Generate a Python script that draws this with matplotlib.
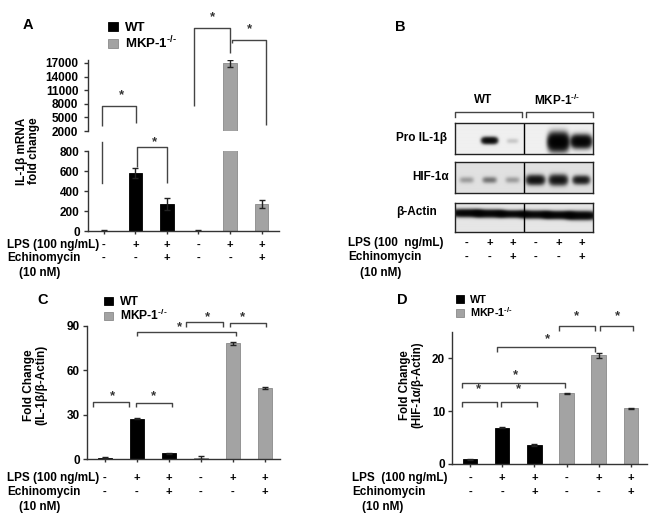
import numpy as np
import matplotlib
matplotlib.use('Agg')
import matplotlib.pyplot as plt
from matplotlib.transforms import blended_transform_factory

plt.rcParams.update({
    'font.family': ['Liberation Sans', 'DejaVu Sans'],
    'font.weight': 'bold',
    'font.size': 8.5,
    'mathtext.fontset': 'custom',
    'mathtext.rm': 'Liberation Sans:bold',
    'mathtext.it': 'Liberation Sans:bold',
    'mathtext.bf': 'Liberation Sans:bold',
    'mathtext.default': 'rm',
    'axes.linewidth': 1.0,
    'axes.edgecolor': '#333333',
    'xtick.color': '#333333', 'ytick.color': '#333333',
    'xtick.labelcolor': 'black', 'ytick.labelcolor': 'black',
})

# ---------------- data ----------------
lps = ['-', '+', '+', '-', '+', '+']
echinomycin = ['-', '-', '+', '-', '-', '+']
groups = ['WT', r'MKP-1$^{\text{-/-}}$']
wt_pos = [0, 1, 2]
mkp_pos = [3, 4, 5]

a_wt = [5, 580, 270]
a_wt_err = [2, 50, 60]
a_mkp = [5, 16900, 270]
a_mkp_err = [2, 750, 40]
a_upper_ticks = [2000, 5000, 8000, 11000, 14000, 17000]
a_lower_ticks = [0, 200, 400, 600, 800]

c_wt = [1.0, 27.3, 3.8]
c_wt_err = [0.3, 0.4, 0.3]
c_mkp = [1.0, 78.2, 48.2]
c_mkp_err = [0.8, 1.2, 0.8]
c_ticks = [0, 30, 60, 90]

d_wt = [0.9, 6.9, 3.6]
d_wt_err = [0.1, 0.1, 0.1]
d_mkp = [13.4, 20.6, 10.6]
d_mkp_err = [0.1, 0.5, 0.1]
d_ticks = [0, 10, 20]

blot_rows = ['Pro IL-1β', 'HIF-1α', 'β-Actin']
pro_il1b_levels = [0.0, 1.0, 0.06, 0.0, 1.5, 1.25]
hif1a_levels = [0.12, 0.22, 0.12, 0.85, 0.8, 0.7]
actin_levels = [1.2, 1.2, 1.1, 1.1, 1.2, 1.2]

WT_COLOR = '#000000'
MKP_COLOR = '#a3a3a3'
LINE = '#444444'

W, H = 654, 524
fig = plt.figure(figsize=(W / 100, H / 100), dpi=100)


def fx(x):
    return x / W


def fy(y):
    return 1 - y / H


def rect(l, t, r, b):
    return [fx(l), fy(b), (r - l) / W, (b - t) / H]


def style(ax, bottom=True, pad=2.0):
    ax.spines['top'].set_visible(False)
    ax.spines['right'].set_visible(False)
    if not bottom:
        ax.spines['bottom'].set_visible(False)
        ax.tick_params(axis='x', bottom=False, labelbottom=False)
    else:
        ax.set_xticks(range(6))
        ax.tick_params(axis='x', length=2, width=1, labelbottom=False)
    ax.tick_params(axis='y', length=3, width=1, pad=pad, labelsize=8.5)


def bars(ax, wt, wt_err, mkp, mkp_err, width=0.42):
    ax.bar(wt_pos, wt, width=width, color=WT_COLOR, edgecolor=WT_COLOR, lw=0.6,
           yerr=wt_err, capsize=2.5,
           error_kw=dict(elinewidth=1, ecolor='#222222', capthick=1), label=groups[0])
    ax.bar(mkp_pos, mkp, width=width, color=MKP_COLOR, edgecolor='#8a8a8a', lw=0.6,
           yerr=mkp_err, capsize=2.5,
           error_kw=dict(elinewidth=1, ecolor='#222222', capthick=1), label=groups[1])


def bracket(ax, x1, x2, y, y1, y2, sx=None, sy=None, fs=9.5):
    ax.plot([x1, x1, x2, x2], [y1, y, y, y2], color=LINE, lw=1.0, clip_on=False,
            solid_capstyle='butt')
    if sx is not None:
        ax.text(sx, sy, '*', ha='center', va='center', fontsize=fs, clip_on=False,
                color='#333333')


def sign_rows(ax, y_lps, y_ech, fs=8):
    tr = blended_transform_factory(ax.transData, fig.transFigure)
    for i in range(6):
        ax.text(i, fy(y_lps), lps[i], transform=tr, ha='center', va='center', fontsize=fs)
        ax.text(i, fy(y_ech), echinomycin[i], transform=tr, ha='center', va='center', fontsize=fs)


def row_labels(x, y_lps, y_ech, y_nm, x_nm, lps_text='LPS (100 ng/mL)'):
    fig.text(fx(x), fy(y_lps), lps_text, ha='left', va='center', fontsize=8.5)
    fig.text(fx(x), fy(y_ech), 'Echinomycin', ha='left', va='center', fontsize=8.5)
    fig.text(fx(x_nm), fy(y_nm), '(10 nM)', ha='center', va='center', fontsize=8.5)


def legend(ax, x, y, fs):
    ax.legend(loc='upper left', bbox_to_anchor=(fx(x), fy(y)), bbox_transform=fig.transFigure,
              frameon=False, fontsize=fs, handlelength=0.75, handleheight=0.7,
              handletextpad=0.55, labelspacing=0.0, borderpad=0, borderaxespad=0)


# ---------------- Panel A (broken axis) ----------------
axAu = fig.add_axes(rect(88, 60, 279, 131))
axAl = fig.add_axes(rect(88, 151, 279, 231))
for ax in (axAu, axAl):
    bars(ax, a_wt, a_wt_err, a_mkp, a_mkp_err)
    ax.set_xlim(-0.5, 5.55)
axAu.set_ylim(2000, 17660)
axAu.set_yticks(a_upper_ticks)
axAl.set_ylim(0, 800)
axAl.set_yticks(a_lower_ticks)
style(axAu, bottom=False, pad=4)
style(axAl, pad=3)

# brackets A
bracket(axAu, -0.07, 1.03, 7580, 3100, 3765, 0.55, 9900)
axAl.plot([-0.07, -0.07], [893, 480], color=LINE, lw=1.0, clip_on=False)
bracket(axAl, 1.06, 2.0, 843, 640, 480, 1.6, 885)
bracket(axAu, 2.86, 3.99, 24656, 7515, 19207, 3.45, 27200)
bracket(axAu, 4.06, 5.13, 22075, 21413, 3324, 4.6, 24500)

legend(axAu, 108, 22, 9.5)
fig.text(fx(28), fy(151), 'IL-1β mRNA\nfold change', rotation=90, ha='center', va='center',
         multialignment='center', linespacing=1.0, fontsize=8.5)
fig.text(fx(28), fy(25), 'A', ha='center', va='center', fontsize=10.5)
sign_rows(axAl, 245, 258)
row_labels(7, 245, 258, 273, 40)

# ---------------- Panel C ----------------
axC = fig.add_axes(rect(87, 326, 280, 459))
bars(axC, c_wt, c_wt_err, c_mkp, c_mkp_err)
axC.set_xlim(-0.56, 5.47)
axC.set_ylim(0, 90)
axC.set_yticks(c_ticks)
style(axC)
bracket(axC, -0.37, 0.75, 38.5, 35.5, 35.5, 0.25, 42.5)
bracket(axC, 0.97, 2.1, 38.2, 35.5, 35.5, 1.53, 42.5)
bracket(axC, 1.0, 4.1, 86.0, 83.0, 83.0, 2.34, 89.0)
bracket(axC, 2.53, 3.69, 92.8, 89.4, 89.4, 3.19, 96.0)
bracket(axC, 3.9, 5.03, 92.3, 89.4, 89.4, 4.31, 96.0)
legend(axC, 104, 296, 8.7)
fig.text(fx(35), fy(385), 'Fold Change\n(IL-1β/β-Actin)', rotation=90, ha='center', va='center',
         multialignment='center', linespacing=1.0, fontsize=8.5)
fig.text(fx(43), fy(300), 'C', ha='center', va='center', fontsize=10.5)
sign_rows(axC, 478, 492)
row_labels(7, 478, 492, 507, 40)

# ---------------- Panel D ----------------
axD = fig.add_axes(rect(452, 332, 647, 464))
bars(axD, d_wt, d_wt_err, d_mkp, d_mkp_err, width=0.45)
axD.set_xlim(-0.56, 5.5)
axD.set_ylim(0, 25)
axD.set_yticks(d_ticks)
style(axD)
bracket(axD, -0.25, 0.84, 11.7, 10.8, 10.8, 0.25, 14.2)
bracket(axD, 0.96, 2.08, 11.7, 10.8, 10.8, 1.52, 14.2)
bracket(axD, -0.25, 2.95, 15.3, 14.4, 14.4, 1.4, 16.8)
bracket(axD, 0.84, 3.88, 22.2, 21.2, 21.2, 2.42, 23.7)
bracket(axD, 2.76, 3.88, 26.1, 25.2, 25.2, 3.32, 28.0)
bracket(axD, 4.04, 5.06, 26.1, 25.2, 25.2, 4.57, 28.0)
legend(axD, 456, 295, 7.8)
fig.text(fx(411), fy(385), 'Fold Change\n(HIF-1α/β-Actin)', rotation=90, ha='center', va='center',
         multialignment='center', linespacing=1.0, fontsize=8.3)
fig.text(fx(402), fy(300), 'D', ha='center', va='center', fontsize=10.5)
sign_rows(axD, 478, 492)
row_labels(352, 478, 492, 507, 383, lps_text='LPS  (100 ng/mL)')


# ---------------- Panel B (western blot) ----------------
def blot_image(levels, widths, heights, yc, bg, hpx, ncols=276, nrows=64):
    xs = np.linspace(-0.5, 5.5, ncols)
    ys = np.linspace(0, hpx, nrows)
    X, Y = np.meshgrid(xs, ys)
    dens = np.zeros_like(X)
    for i, lv in enumerate(levels):
        if lv <= 0:
            continue
        dens += lv * np.exp(-((X - i) / widths[i]) ** 4 - ((Y - yc[i]) / heights[i]) ** 2)
    return bg * np.exp(-3.0 * dens)


strips = [(123, 154), (162, 193), (203, 232)]
strip_specs = [
    (pro_il1b_levels, [0.3, 0.33, 0.25, 0.3, 0.42, 0.42], [3.0, 3.0, 2.5, 3.0, 7.5, 5.5],
     [13, 13.5, 13, 13, 12, 12.5], 0.94),
    (hif1a_levels, [0.3, 0.3, 0.3, 0.38, 0.38, 0.35], [3.0, 3.0, 3.0, 4.2, 4.6, 3.8],
     [13, 13, 13, 13, 13, 13], 0.88),
    (actin_levels, [0.62, 0.62, 0.62, 0.62, 0.62, 0.62], [3.2, 3.2, 3.0, 3.2, 3.2, 3.5],
     [19, 18.5, 18, 17.5, 17, 16.5], 0.9),
]
label_pos = [(447, 138), (449, 177), (437, 212)]
blot_axes = []
for (t, b), spec, name, (lx, ly) in zip(strips, strip_specs, blot_rows, label_pos):
    ax = fig.add_axes(rect(455, t, 593, b))
    lv, wd, ht, yc, bg = spec
    img = blot_image(lv, wd, ht, yc, bg, b - t)
    ax.imshow(img, cmap='gray', vmin=0, vmax=1, extent=(-0.5, 5.5, 0, 1), origin='lower',
              aspect='auto', interpolation='bilinear')
    ax.axvline(2.5, color='black', lw=1.0)
    ax.set_xlim(-0.5, 5.5)
    ax.set_ylim(0, 1)
    ax.set_xticks([])
    ax.set_yticks([])
    for s in ax.spines.values():
        s.set_color('#222222')
        s.set_linewidth(1.0)
    fig.text(fx(lx), fy(ly), name, ha='right', va='center', fontsize=8.5)
    blot_axes.append(ax)

top = blot_axes[0]
top.plot([-0.5, -0.5, 2.42, 2.42], [1.19, 1.355, 1.355, 1.19], color=LINE, lw=1.0, clip_on=False)
top.plot([2.6, 2.6, 5.5, 5.5], [1.19, 1.355, 1.355, 1.19], color=LINE, lw=1.0, clip_on=False)
fig.text(fx(483), fy(100), groups[0], ha='center', va='center', fontsize=8.5)
fig.text(fx(557), fy(100), groups[1], ha='center', va='center', fontsize=8.5)
fig.text(fx(400), fy(27), 'B', ha='center', va='center', fontsize=10.5)
sign_rows(blot_axes[2], 243, 257)
row_labels(348, 243, 257, 273, 381, lps_text='LPS (100  ng/mL)')

fig.savefig('out.png', dpi=100)
